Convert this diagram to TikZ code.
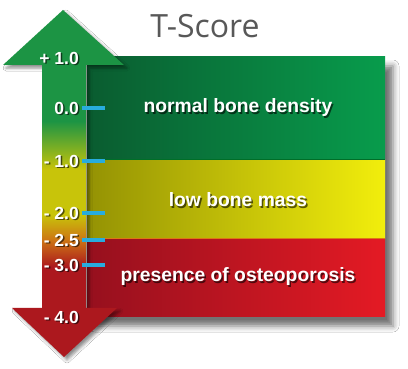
\documentclass[tikz,border=0pt]{standalone}
\usepackage{fontspec}
\setmainfont{Liberation Sans}
\newfontfamily\titlefont{Open Sans}
\usetikzlibrary{shadows.blur}

\definecolor{arrowgreen}{RGB}{28,148,68}
\definecolor{arrowyellow}{RGB}{200,196,10}
\definecolor{arroworange}{RGB}{205,120,20}
\definecolor{arrowred}{RGB}{172,24,30}
\definecolor{tickblue}{RGB}{40,172,222}
\definecolor{titlegray}{RGB}{88,88,88}
\definecolor{greenleft}{RGB}{10,92,48}
\definecolor{greenright}{RGB}{8,156,76}
\definecolor{yellowleft}{RGB}{148,146,4}
\definecolor{yellowright}{RGB}{242,238,12}
\definecolor{redleft}{RGB}{150,16,30}
\definecolor{redright}{RGB}{228,26,36}
\definecolor{greenline}{RGB}{0,110,40}
\definecolor{orangeline}{RGB}{220,120,20}

\pgfdeclareverticalshading{shaftshade}{100bp}{%
  color(0bp)=(arrowred); color(38bp)=(arrowred); color(42bp)=(arroworange);
  color(45.5bp)=(arrowyellow); color(52bp)=(arrowyellow); color(59bp)=(arrowgreen);
  color(100bp)=(arrowgreen)}

\begin{document}
\begin{tikzpicture}[x=1pt, y=-1pt]
	\tikzstyle{every node}=[font=\bfseries\fontsize{17.5}{19}\selectfont, inner sep=0]
	\tikzstyle{bandlabel}=[font=\bfseries\fontsize{19.3}{21}\selectfont, text=white]
	\tikzstyle{bandshadow}=[bandlabel, text=black, opacity=0.6]
	\tikzstyle{ticklabel}=[anchor=east, text=white]
	\tikzstyle{tickshadow}=[ticklabel, text=black, opacity=0.6]
	\tikzstyle{scaletick}=[draw=tickblue, line width=3.2pt]

	%canvas
	\fill[white] (0,0) rectangle (408,369);
	\useasboundingbox (0,0) rectangle (408,369);

	%title
	\node[font=\titlefont\fontsize{32}{34}\selectfont, text=titlegray] (title) at (205,26) {T-Score};

	%bands
	\path[fill=black, blur shadow={shadow xshift=8pt, shadow yshift=-9pt, shadow blur radius=6pt, shadow opacity=55}] (87,57) rectangle (385,317);
	\shade[left color=greenleft, right color=greenright] (87,57) rectangle (385,160);
	\shade[left color=yellowleft, right color=yellowright] (87,160) rectangle (385,239);
	\shade[left color=redleft, right color=redright] (87,239) rectangle (385,317);
	\draw[greenline, line width=1pt] (87,160) -- (385,160);
	\draw[orangeline, line width=1pt] (87,239) -- (385,239);

	\foreach \name/\y/\txt in {normal/108/normal bone density, low/200/low bone mass, osteo/277/presence of osteoporosis}{
		\node[bandshadow] at (239.5,\y+1.5) {\txt};
		\node[bandlabel] (\name) at (238,\y) {\txt};
	}

	%arrow
	\shade[shading=shaftshade, blur shadow={shadow xshift=3pt, shadow yshift=-3pt, shadow blur radius=3pt, shadow opacity=45}]
		(63,10) -- (124,65) -- (86,65) -- (86,308) -- (117,308) -- (64,357)
		-- (12,308) -- (42,308) -- (42,65) -- (3,65) -- cycle;

	%labels
	\foreach \v/\y [count=\i] in {+ 1.0/58, 0.0/108, - 1.0/161, - 2.0/213, - 2.5/240, - 3.0/265, - 4.0/317}{
		\node[tickshadow] at (80.5,\y+1.5) {\v};
		\node[ticklabel] (v\i) at (79,\y) {\v};
	}

	%ticks
	\foreach \i in {2,...,6}
		\path[scaletick] ([xshift=3pt]v\i.east) -- ++(23,0);
\end{tikzpicture}
\end{document}
